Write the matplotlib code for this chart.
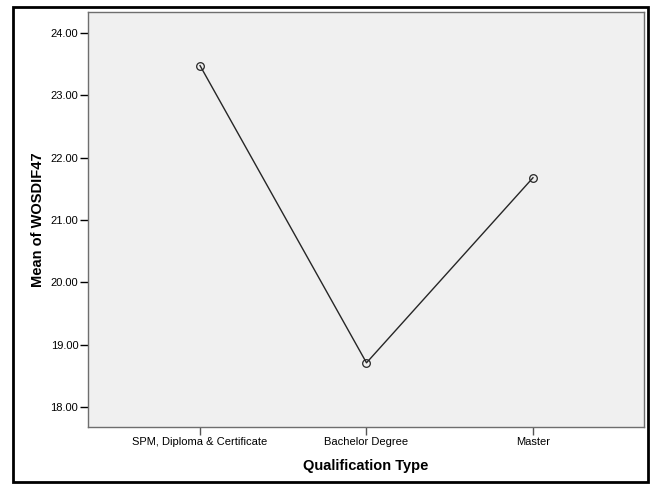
import matplotlib.pyplot as plt
import matplotlib.patches as patches

plt.rcParams["font.family"] = ["Liberation Sans", "DejaVu Sans"]

# data
categories = ["SPM, Diploma & Certificate", "Bachelor Degree", "Master"]
means = [23.48, 18.71, 21.68]
yticks = [18, 19, 20, 21, 22, 23, 24]

W, H = 656, 484
fig = plt.figure(figsize=(W / 100, H / 100), dpi=100)
ax = fig.add_axes([88 / W, 1 - 427 / H, (644 - 88) / W, (427 - 12) / H])
ax.set_facecolor("#F0F0F0")

x = list(range(len(categories)))
ax.plot(x, means, color="#262626", lw=1.0, marker="o", ms=5.5,
        mfc="none", mec="#262626", mew=0.9)

ax.set_xlim(-0.673, 2.667)
ax.set_ylim(17.68, 24.34)
ax.set_yticks(yticks)
ax.set_yticklabels(["%.2f" % v for v in yticks], fontsize=8)
ax.set_xticks(x)
ax.set_xticklabels(categories, fontsize=8)

for s in ax.spines.values():
    s.set_color("#6E6E6E")
    s.set_linewidth(1.0)
ax.tick_params(axis="y", length=6, width=1, color="black", pad=1)
ax.tick_params(axis="x", length=6, width=1, color="#555555", pad=1.5)

ax.set_ylabel("Mean of WOSDIF47", fontsize=10.5, fontweight="bold", labelpad=4)
ax.set_xlabel("Qualification Type", fontsize=10.5, fontweight="bold", labelpad=8)

# outer frame
fig.patches.append(patches.Rectangle((13 / W, 1 - 482 / H), (648 - 13) / W, (482 - 7) / H,
                                     transform=fig.transFigure, fill=False,
                                     edgecolor="black", linewidth=2))

fig.savefig("out.png", dpi=100)
